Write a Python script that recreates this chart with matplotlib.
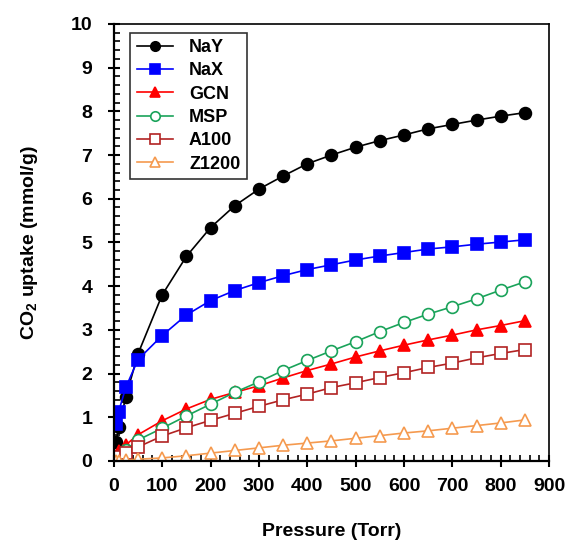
import numpy as np
import matplotlib
matplotlib.use('Agg')
import matplotlib.pyplot as plt
from matplotlib.ticker import MultipleLocator

plt.rcParams['font.family'] = ['Liberation Sans', 'DejaVu Sans']
plt.rcParams['font.weight'] = 'bold'
plt.rcParams['mathtext.fontset'] = 'custom'
plt.rcParams['mathtext.rm'] = 'Liberation Sans:bold'
plt.rcParams['mathtext.bf'] = 'Liberation Sans:bold'

# pressure points (Torr)
pressure = [5, 10, 25, 50, 100, 150, 200, 250, 300, 350, 400, 450,
            500, 550, 600, 650, 700, 750, 800, 850]

nay = [0.44, 0.77, 1.47, 2.45, 3.8, 4.68, 5.34, 5.84, 6.22, 6.52, 6.8, 7.0,
       7.18, 7.33, 7.46, 7.6, 7.7, 7.8, 7.89, 7.97]
nax = [0.84, 1.13, 1.69, 2.32, 2.87, 3.34, 3.67, 3.9, 4.08, 4.24, 4.38, 4.49,
       4.6, 4.69, 4.77, 4.85, 4.9, 4.96, 5.01, 5.06]
gcn = [0.12, 0.22, 0.37, 0.6, 0.92, 1.19, 1.41, 1.57, 1.72, 1.9, 2.07, 2.22,
       2.38, 2.52, 2.65, 2.77, 2.88, 3.0, 3.1, 3.21]
msp = [0.05, 0.1, 0.25, 0.48, 0.75, 1.03, 1.3, 1.57, 1.81, 2.07, 2.3, 2.52,
       2.73, 2.96, 3.17, 3.36, 3.53, 3.71, 3.91, 4.1]
a100 = [0.04, 0.08, 0.18, 0.32, 0.57, 0.76, 0.93, 1.09, 1.25, 1.4, 1.53, 1.68,
        1.79, 1.91, 2.02, 2.14, 2.24, 2.36, 2.46, 2.55]
z1200 = [0.0, 0.01, 0.02, 0.04, 0.07, 0.12, 0.18, 0.24, 0.3, 0.36, 0.41, 0.46,
         0.52, 0.58, 0.64, 0.69, 0.75, 0.81, 0.87, 0.94]

series = [
    ('NaY', nay, 'o', 'black', 'black'),
    ('NaX', nax, 's', '#0000ff', '#0000ff'),
    ('GCN', gcn, '^', '#ff0000', '#ff0000'),
    ('MSP', msp, 'o', '#1aa35a', 'white'),
    ('A100', a100, 's', '#b22222', 'white'),
    ('Z1200', z1200, '^', '#f59a4f', 'white'),
]

fig = plt.figure(figsize=(5.69, 5.44), dpi=100)
ax = fig.add_axes([0.2, 0.1526, 0.765, 0.8034])

for name, vals, mk, col, fc in series:
    ax.plot(pressure, vals, marker=mk, color=col, markerfacecolor=fc,
            markeredgecolor=col, markersize=8.5, lw=1.2, mew=1.2, label=name)

ax.set_xlim(0, 900)
ax.set_ylim(0, 10)
ax.xaxis.set_major_locator(MultipleLocator(100))
ax.xaxis.set_minor_locator(MultipleLocator(20))
ax.yaxis.set_major_locator(MultipleLocator(1))
ax.yaxis.set_minor_locator(MultipleLocator(0.2))
ax.tick_params(which='major', direction='inout', length=9, width=1.5,
               labelsize=14, top=False, right=False)
ax.tick_params(axis='x', which='major', pad=8)
ax.tick_params(axis='y', which='major', pad=11)
ax.tick_params(which='minor', direction='in', length=4.5, width=1.2,
               top=False, right=False)
for s in ax.spines.values():
    s.set_linewidth(1.2)
ax.spines['left'].set_linewidth(1.6)
ax.spines['bottom'].set_linewidth(1.6)

ax.set_xlabel('Pressure (Torr)', fontsize=14, fontweight='bold', labelpad=20)
ax.set_ylabel(r'CO$_2$ uptake (mmol/g)', fontsize=14, fontweight='bold', labelpad=22)

leg = ax.legend(loc='upper left', bbox_to_anchor=(0.038, 0.98), fontsize=13,
                frameon=True, fancybox=False, edgecolor='black',
                handlelength=2.0, borderpad=0.35, labelspacing=0.35,
                handletextpad=0.9, markerscale=0.8, borderaxespad=0)
leg.get_frame().set_linewidth(1.2)

fig.savefig('out.png', dpi=100)
